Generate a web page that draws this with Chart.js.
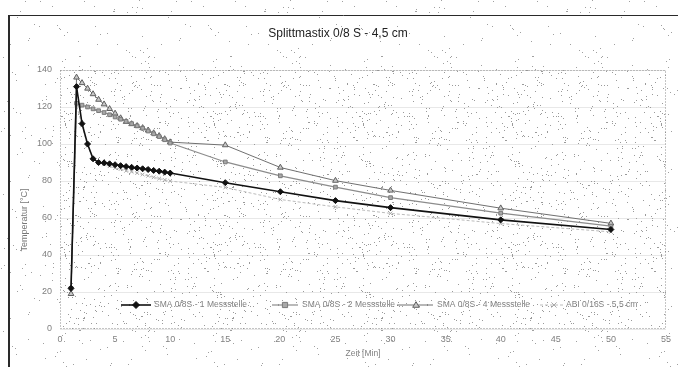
<!DOCTYPE html>
<html><head><meta charset="utf-8">
<script src="https://cdn.jsdelivr.net/npm/chart.js@4.4.0/dist/chart.umd.min.js"></script>
<style>html,body{margin:0;padding:0;background:#fff;} #wrap{width:678px;height:367px;position:relative;}</style>
</head><body><div id="wrap"><canvas id="c" width="678" height="367"></canvas></div>
<script>
const chartTitle = 'Splittmastix 0/8 S - 4,5 cm';
const xAxisTitle = 'Zeit [Min]';
const yAxisTitle = 'Temperatur [°C]';
const seriesLabels = ['SMA 0/8S - 1 Messstelle', 'SMA 0/8S - 2 Messstelle', 'SMA 0/8S - 4 Messstelle', 'ABI 0/16S - 5,5 cm'];
const minutes = [1, 1.5, 2, 2.5, 3, 3.5, 4, 4.5, 5, 5.5, 6, 6.5, 7, 7.5, 8, 8.5, 9, 9.5, 10, 15, 20, 25, 30, 40, 50];
const sma1 = [22, 131, 111, 100, 92, 90, 89.8, 89.3, 88.8, 88.3, 87.8, 87.4, 87, 86.6, 86.2, 85.7, 85.3, 84.8, 84.3, 79.1, 74.2, 69.4, 65.6, 59, 53.8];
const sma2 = [22, 122, 121, 120, 119, 118, 117, 115.8, 114.6, 113.4, 112.2, 111, 109.8, 108.5, 107, 105.5, 104, 102.3, 100.5, 90.3, 82.8, 76.7, 71, 62.6, 55.6];
const sma4 = [19, 136, 133, 130, 127, 124, 121.5, 119, 116.5, 114, 112, 110.8, 109.8, 108.7, 107.4, 105.9, 104.4, 102.7, 101, 99.4, 87.3, 80.2, 74.9, 65.3, 57.1];
const abi = [19, 121, 110, 99, 92, 90, 89, 88, 87, 86.5, 85.5, 85, 84.3, 83.5, 82.8, 82, 81.3, 80.6, 80, 76.5, 70, 66, 62.5, 57, 52.5];
const xTicks = [0, 5, 10, 15, 20, 25, 30, 35, 40, 45, 50, 55];
const yTicks = [0, 20, 40, 60, 80, 100, 120, 140];

const styles = [
  {line: '#111111', width: 1.6, dash: [], point: 'rectRot', r: 3, fill: '#111111', stroke: '#111111'},
  {line: '#8c8c8c', width: 1.2, dash: [], point: 'rect', r: 2.6, fill: '#a8a8a8', stroke: '#7a7a7a'},
  {line: '#707070', width: 1.0, dash: [], point: 'triangle', r: 3.3, fill: '#c8c8c8', stroke: '#5f5f5f'},
  {line: '#bcbcbc', width: 1.0, dash: [3, 2], point: 'crossRot', r: 2.6, fill: '#b0b0b0', stroke: '#aaaaaa'}
];
const seriesValues = [sma1, sma2, sma4, abi];

function toPoints(vals) { return minutes.map((m, i) => ({x: m, y: vals[i]})); }

const datasets = seriesValues.map((vals, i) => ({
  label: seriesLabels[i],
  data: toPoints(vals),
  showLine: true,
  tension: 0,
  borderColor: styles[i].line,
  borderWidth: styles[i].width,
  borderDash: styles[i].dash,
  pointStyle: styles[i].point,
  pointRadius: styles[i].r,
  pointBackgroundColor: styles[i].fill,
  pointBorderColor: styles[i].stroke,
  pointBorderWidth: 1
}));

function tile(density, w, h, seed, color) {
  const c = document.createElement('canvas'); c.width = w; c.height = h;
  const g = c.getContext('2d'); g.fillStyle = color;
  for (let y = 0; y < h; y++) for (let x = 0; x < w; x++) {
    let v = (Math.imul(x + seed, 374761393) + Math.imul(y, 668265263)) >>> 0;
    v = Math.imul(v ^ (v >>> 13), 1274126177) >>> 0;
    v = (v ^ (v >>> 16)) >>> 0;
    if (v % 1000 < density) g.fillRect(x, y, 1, 1);
  }
  return c;
}
const outerTile = tile(6, 151, 137, 7, '#a0a0a0');
const innerTile = tile(24, 149, 131, 3, '#9a9a9a');

function marker(ctx, st, x, y) {
  const r = st.r;
  ctx.save();
  ctx.fillStyle = st.fill; ctx.strokeStyle = st.stroke; ctx.lineWidth = 1; ctx.setLineDash([]);
  ctx.beginPath();
  if (st.point === 'rectRot') { ctx.moveTo(x, y - r - 0.5); ctx.lineTo(x + r + 0.5, y); ctx.lineTo(x, y + r + 0.5); ctx.lineTo(x - r - 0.5, y); ctx.closePath(); ctx.fill(); ctx.stroke(); }
  else if (st.point === 'rect') { ctx.rect(x - r, y - r, 2 * r, 2 * r); ctx.fill(); ctx.stroke(); }
  else if (st.point === 'triangle') { ctx.moveTo(x, y - r); ctx.lineTo(x + r, y + r * 0.7); ctx.lineTo(x - r, y + r * 0.7); ctx.closePath(); ctx.fill(); ctx.stroke(); }
  else { ctx.moveTo(x - r, y - r); ctx.lineTo(x + r, y + r); ctx.moveTo(x + r, y - r); ctx.lineTo(x - r, y + r); ctx.stroke(); }
  ctx.restore();
}

const decor = {
  id: 'decor',
  beforeDraw(chart) {
    const ctx = chart.ctx, a = chart.chartArea;
    ctx.save();
    ctx.fillStyle = '#ffffff'; ctx.fillRect(0, 0, chart.width, chart.height);
    ctx.fillStyle = ctx.createPattern(outerTile, 'repeat'); ctx.fillRect(0, 0, chart.width, chart.height);
    ctx.fillStyle = '#ffffff'; ctx.fillRect(a.left, a.top, a.right - a.left, a.bottom - a.top);
    ctx.fillStyle = ctx.createPattern(innerTile, 'repeat'); ctx.fillRect(a.left, a.top, a.right - a.left, a.bottom - a.top);
    ctx.restore();
  },
  afterDraw(chart) {
    const ctx = chart.ctx, a = chart.chartArea;
    ctx.save();
    ctx.strokeStyle = '#8a8a8a'; ctx.lineWidth = 1; ctx.setLineDash([1, 2]);
    ctx.strokeRect(a.left + 0.5, a.top + 0.5, a.right - a.left - 1, a.bottom - a.top - 1);
    ctx.setLineDash([]);
    ctx.strokeStyle = '#2a2a2a'; ctx.lineWidth = 2;
    ctx.beginPath(); ctx.moveTo(9, 15); ctx.lineTo(9, 367); ctx.stroke();
    ctx.lineWidth = 1;
    ctx.beginPath(); ctx.moveTo(9, 15.5); ctx.lineTo(678, 15.5); ctx.stroke();
    ctx.fillStyle = '#777'; ctx.font = '9px "Liberation Sans", Arial, sans-serif';
    ctx.translate(25, 220); ctx.rotate(-Math.PI / 2); ctx.textAlign = 'center'; ctx.textBaseline = 'middle';
    ctx.fillText(yAxisTitle, 0, 0);
    ctx.setTransform(1, 0, 0, 1, 0, 0);
    const items = [
      {l0: 121, l1: 151, m: 136, t: 154},
      {l0: 272, l1: 298, m: 285, t: 302},
      {l0: 397, l1: 433, m: 416, t: 437},
      {l0: 540, l1: 563, m: 554, t: 566}
    ];
    const ly = 305;
    ctx.font = '8.5px "Liberation Sans", Arial, sans-serif';
    ctx.textAlign = 'left'; ctx.textBaseline = 'middle';
    items.forEach((it, i) => {
      const st = styles[i];
      ctx.strokeStyle = st.line; ctx.lineWidth = st.width; ctx.setLineDash(st.dash);
      ctx.beginPath(); ctx.moveTo(it.l0, ly); ctx.lineTo(it.l1, ly); ctx.stroke();
      ctx.setLineDash([]);
      marker(ctx, st, it.m, ly);
      ctx.fillStyle = '#808080'; ctx.fillText(chart.data.datasets[i].label, it.t, ly);
    });
    ctx.restore();
  }
};

new Chart(document.getElementById('c'), {
  type: 'scatter',
  data: {datasets},
  options: {
    responsive: false,
    animation: false,
    devicePixelRatio: 1,
    layout: {padding: {left: 10, right: 12, top: 0, bottom: 0}},
    plugins: {
      legend: {display: false},
      tooltip: {enabled: false},
      title: {
        display: true, text: chartTitle, color: '#222',
        font: {family: '"Liberation Sans", Arial, sans-serif', size: 12, weight: 'normal'},
        padding: {top: 26, bottom: 29.6}
      }
    },
    scales: {
      x: {
        type: 'linear', min: 0, max: 55,
        afterBuildTicks: (s) => { s.ticks = xTicks.map(v => ({value: v})); },
        afterFit: (s) => { s.height = 38; },
        ticks: {color: '#808080', font: {family: '"Liberation Sans", Arial, sans-serif', size: 9}, padding: 5, maxRotation: 0},
        grid: {display: false, drawTicks: false},
        border: {display: false},
        title: {display: true, text: xAxisTitle, color: '#808080', font: {family: '"Liberation Sans", Arial, sans-serif', size: 8.5}, padding: {top: 0, bottom: 8.6}}
      },
      y: {
        type: 'linear', min: 0, max: 140,
        afterBuildTicks: (s) => { s.ticks = yTicks.map(v => ({value: v})); },
        afterFit: (s) => { s.width = 50; },
        ticks: {color: '#808080', font: {family: '"Liberation Sans", Arial, sans-serif', size: 9}, padding: 8},
        grid: {color: 'rgba(150,150,150,0.22)', drawTicks: false, lineWidth: 1},
        border: {display: false}
      }
    }
  },
  plugins: [decor]
});
</script>
</body></html>
